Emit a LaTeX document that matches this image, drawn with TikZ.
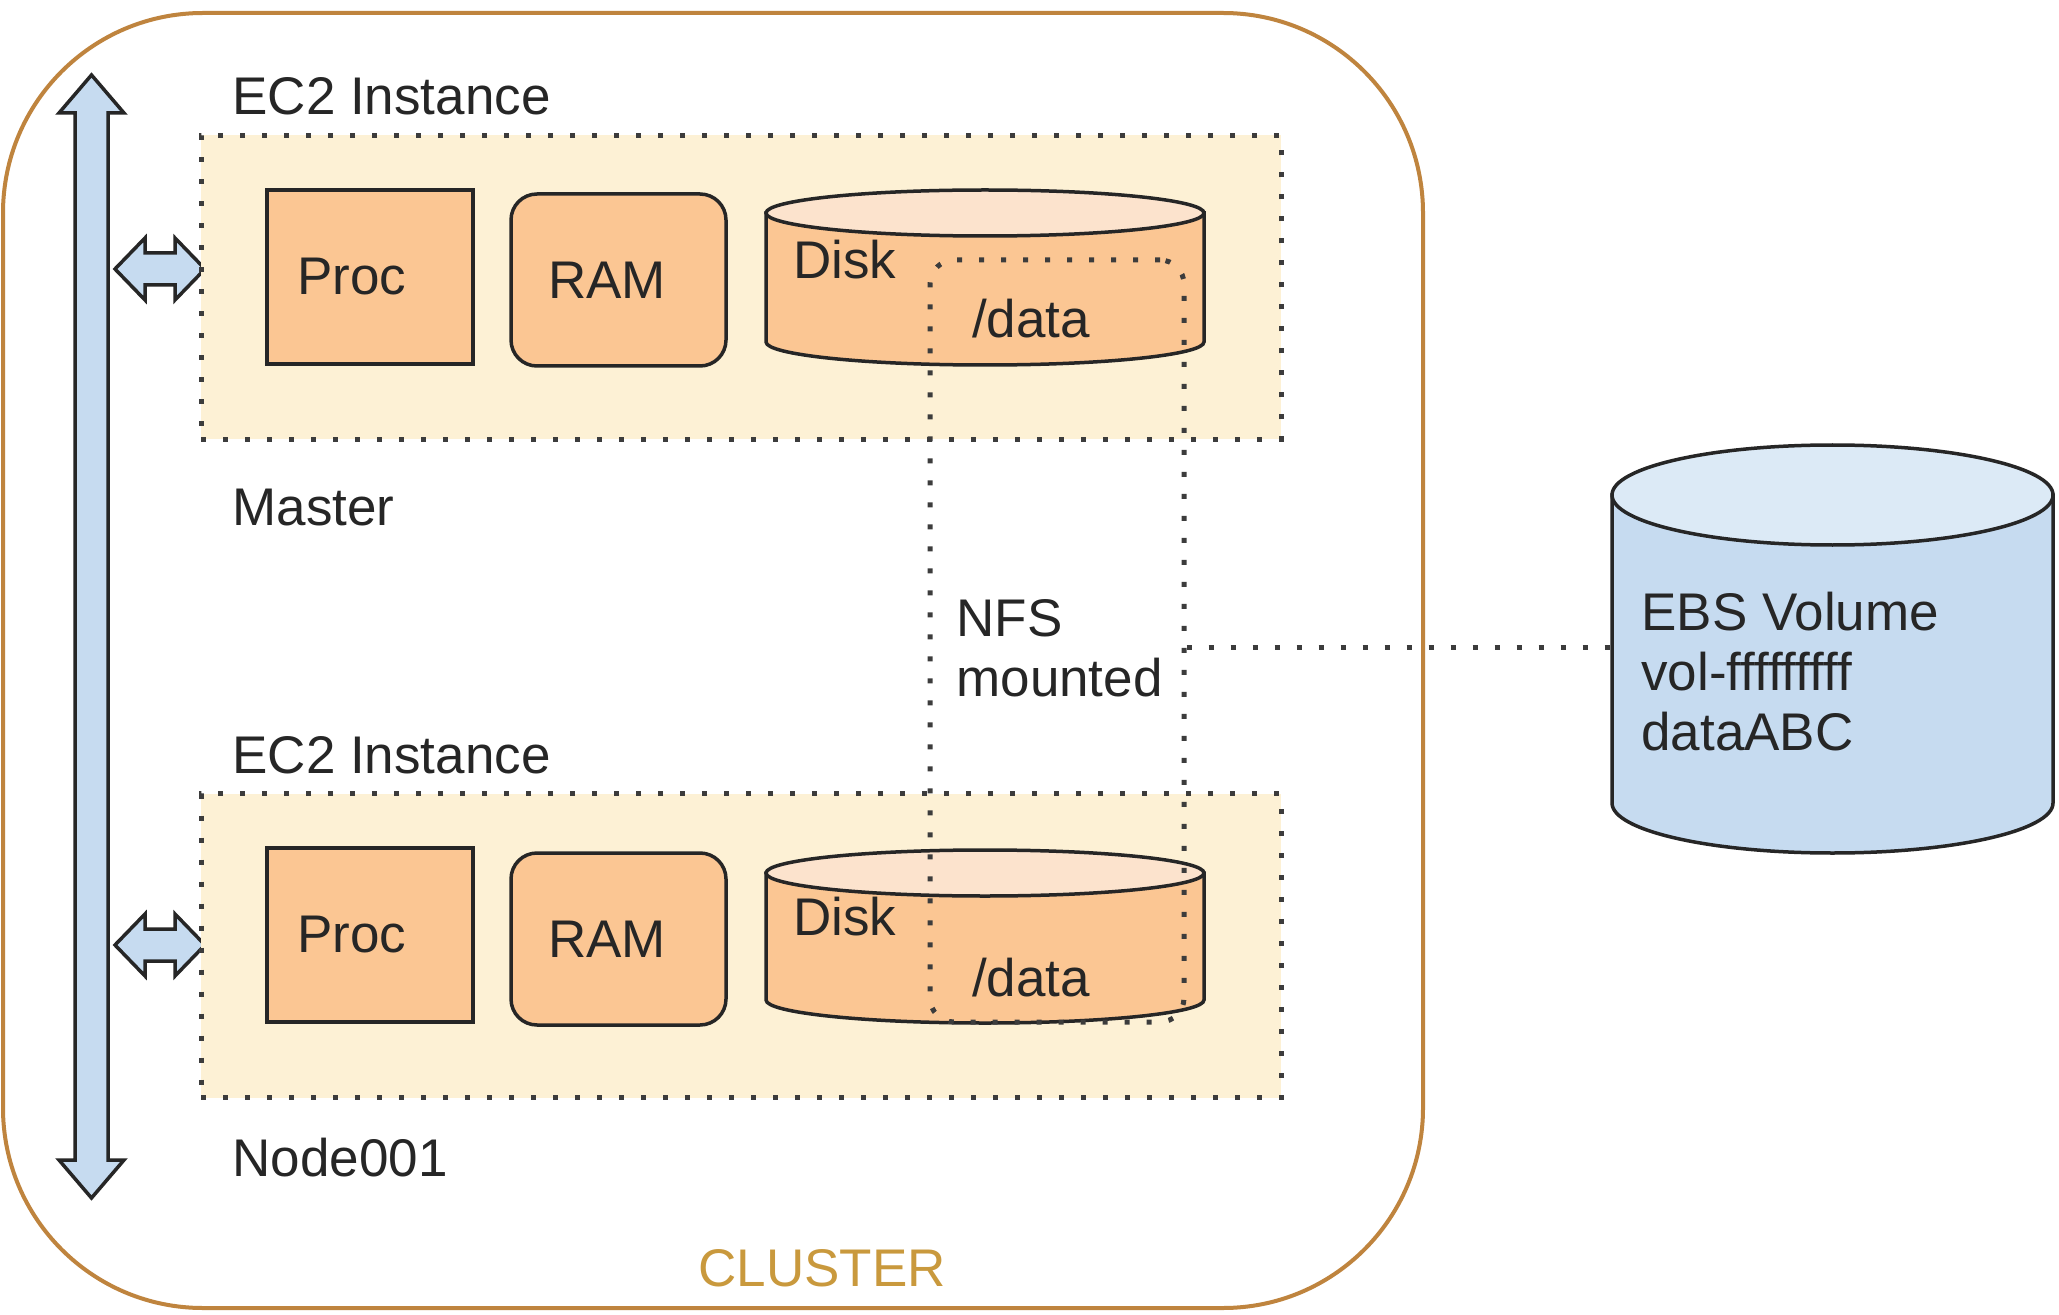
\documentclass[tikz,border=0pt]{standalone}
\usepackage{fontspec}
\setmainfont{Liberation Sans}
\definecolor{clusterline}{HTML}{BF843E}
\definecolor{clustertext}{HTML}{C9993D}
\definecolor{ec2fill}{HTML}{FDF1D5}
\definecolor{peach}{HTML}{FBC693}
\definecolor{peachtop}{HTML}{FCE3CD}
\definecolor{busblue}{HTML}{C6DBF0}
\definecolor{ebstop}{HTML}{DCEAF6}
\definecolor{dotgrey}{HTML}{3C3C3C}
\begin{document}
\begin{tikzpicture}[x=0.5pt, y=-0.5pt,
  every node/.style={font=\fontsize{26.5}{30}\selectfont, inner sep=0pt, text=black!85},
  dotrule/.style={draw=dotgrey, line width=2.5pt, dash pattern=on 2.5pt off 8.5pt},
  instbox/.style={dotrule, fill=ec2fill, minimum width=540pt, minimum height=152pt},
  outline/.style={draw=black!85, line width=1.75pt},
  procbox/.style={outline, fill=peach, minimum width=103pt, minimum height=87pt,
    inner xsep=15pt, text width=73pt, align=left},
  rambox/.style={procbox, rounded corners=13pt, minimum width=107.5pt, minimum height=86pt,
    inner xsep=18.5pt, text width=70.5pt},
  bus/.style={outline, fill=busblue, line join=miter},
  lbl/.style={anchor=west}]
\fill[white] (0,0) rectangle (2059,1315);
\useasboundingbox (0,0) rectangle (2059,1315);
% cluster frame
\draw[draw=clusterline, line width=2pt, rounded corners=100pt] (3,13) rectangle (1423,1308);
\node[text=clustertext] (cluster) at (822,1268) {CLUSTER};
% network bus
\draw[bus] (91.5,75) -- (124,113) -- (108,113) -- (108,1160) -- (124,1160) -- (91.5,1198)
  -- (59,1160) -- (75,1160) -- (75,113) -- (59,113) -- cycle;
\draw[bus] (115,269) -- (145,238) -- (145,253) -- (175,253) -- (175,238) -- (205,269)
  -- (175,300) -- (175,285) -- (145,285) -- (145,300) -- cycle;
\begin{scope}[shift={(0,676)}]
\draw[bus] (115,269) -- (145,238) -- (145,253) -- (175,253) -- (175,238) -- (205,269)
  -- (175,300) -- (175,285) -- (145,285) -- (145,300) -- cycle;
\end{scope}
% master instance
\node[lbl] (ec2a) at (232,96) {EC2 Instance};
\node[instbox] (master) at (741,287.5) {};
\node[lbl] (masterlbl) at (232,508) {Master};
\node[procbox] (proca) at (370,277) {Proc};
\node[rambox] (rama) at (618.5,280) {RAM};
\draw[outline, fill=peach] (766,213) -- (766,342)
  arc[start angle=180, end angle=360, x radius=109.5pt, y radius=11.5pt] -- (1204,213) -- cycle;
\draw[outline, fill=peachtop] (985,213) ellipse[x radius=109.5pt, y radius=11.5pt];
\node[lbl] (diska) at (793,260) {Disk};
\node (dataa) at (1031,319) {/data};
% node001 instance
\node[lbl] (ec2b) at (232,755) {EC2 Instance};
\node[instbox] (node) at (741,945.5) {};
\node[lbl] (nodelbl) at (232,1158) {Node001};
\node[procbox] (procb) at (370,935) {Proc};
\node[rambox] (ramb) at (618.5,939) {RAM};
\draw[outline, fill=peach] (766,873) -- (766,1000)
  arc[start angle=180, end angle=360, x radius=109.5pt, y radius=11.5pt] -- (1204,873) -- cycle;
\draw[outline, fill=peachtop] (985,873) ellipse[x radius=109.5pt, y radius=11.5pt];
\node[lbl] (diskb) at (793,917) {Disk};
\node (datab) at (1031,978) {/data};
% shared /data
\node[dotrule, rounded corners=12pt, minimum width=127pt, minimum height=381pt] (datavol) at (1057,641) {};
\node[lbl, align=left] (nfs) at (956,648) {NFS\\mounted};
% EBS volume
\draw[outline, fill=busblue] (1612,495) -- (1612,803)
  arc[start angle=180, end angle=360, x radius=110.25pt, y radius=25pt] -- (2053,495) -- cycle;
\draw[outline, fill=ebstop] (1832.5,495) ellipse[x radius=110.25pt, y radius=25pt];
\coordinate (ebs) at (1612,647);
\node[lbl, align=left] (ebslbl) at (1641,672) {EBS Volume\\vol-fffffffff\\dataABC};
\draw[dotrule] (datavol.east |- ebs) -- (ebs);
\end{tikzpicture}
\end{document}
